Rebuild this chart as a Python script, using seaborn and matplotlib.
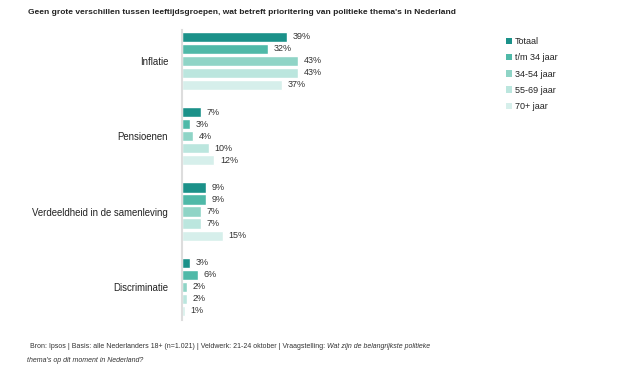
import matplotlib
matplotlib.use("Agg")
import matplotlib.pyplot as plt
import pandas as pd
import seaborn as sns
from matplotlib.patches import Patch

# chart data
themes = ["Inflatie", "Pensioenen", "Verdeeldheid in de samenleving", "Discriminatie"]
groups = ["Totaal", "t/m 34 jaar", "34-54 jaar", "55-69 jaar", "70+ jaar"]
totaal = [39, 7, 9, 3]
tm34 = [32, 3, 9, 6]
g34_54 = [43, 4, 7, 2]
g55_69 = [43, 10, 7, 2]
g70plus = [37, 12, 15, 1]
colors = ["#1b9189", "#4fb9a8", "#8fd4c6", "#bbe6de", "#d6efeb"]

rows = []
for g, vals in zip(groups, [totaal, tm34, g34_54, g55_69, g70plus]):
    for t, v in zip(themes, vals):
        rows.append({"thema": t, "groep": g, "pct": v})
df = pd.DataFrame(rows)

sns.set_style("white")
plt.rcParams["font.family"] = ["Liberation Sans", "DejaVu Sans"]

fig = plt.figure(figsize=(6.24, 3.75), dpi=100)
ax = fig.add_axes([182 / 624, 1 - 320 / 375, 270 / 624, 290 / 375])

sns.barplot(data=df, y="thema", x="pct", hue="groep", order=themes,
            hue_order=groups, palette=colors, orient="h", gap=0.15,
            saturation=1, legend=False, ax=ax)

for cont in ax.containers:
    ax.bar_label(cont, labels=[f"{int(v)}%" for v in cont.datavalues],
                 padding=4, fontsize=6.5, color="#333333")

ax.set_xlim(0, 100)
ax.set_ylim(3.44, -0.41)
ax.set_xlabel("")
ax.set_ylabel("")
ax.set_xticks([])
ax.tick_params(axis="y", length=0, pad=10, labelsize=6.9, labelcolor="#222222")
for side in ["top", "right", "bottom"]:
    ax.spines[side].set_visible(False)
ax.spines["left"].set_color("#dddddd")
ax.spines["left"].set_linewidth(1.5)

handles = [Patch(facecolor=c, edgecolor="none") for c in colors]
fig.legend(handles, groups, loc="upper left", bbox_to_anchor=(498 / 624, 1 - 29 / 375),
           frameon=False, fontsize=6.5, handlelength=0.7, handleheight=0.7,
           handletextpad=0.3, labelspacing=0.8, labelcolor="#222222")

fig.text(28 / 624, 1 - 12 / 375,
         "Geen grote verschillen tussen leeftijdsgroepen, wat betreft prioritering van politieke thema's in Nederland",
         fontsize=6.0, fontweight="bold", va="center", ha="left", color="#222222")

foot = dict(fontsize=5.0, color="#333333", va="center", ha="left")
t1 = fig.text(30 / 624, 1 - 346 / 375,
              "Bron: Ipsos | Basis: alle Nederlanders 18+ (n=1.021) | Veldwerk: 21-24 oktober | Vraagstelling: ",
              **foot)
ax.annotate("Wat zijn de belangrijkste politieke", xy=(1, 0.5), xycoords=t1,
            style="italic", **foot)
fig.text(27 / 624, 1 - 361 / 375, "thema's op dit moment in Nederland?",
         style="italic", **foot)

fig.savefig("out.png", dpi=100)
